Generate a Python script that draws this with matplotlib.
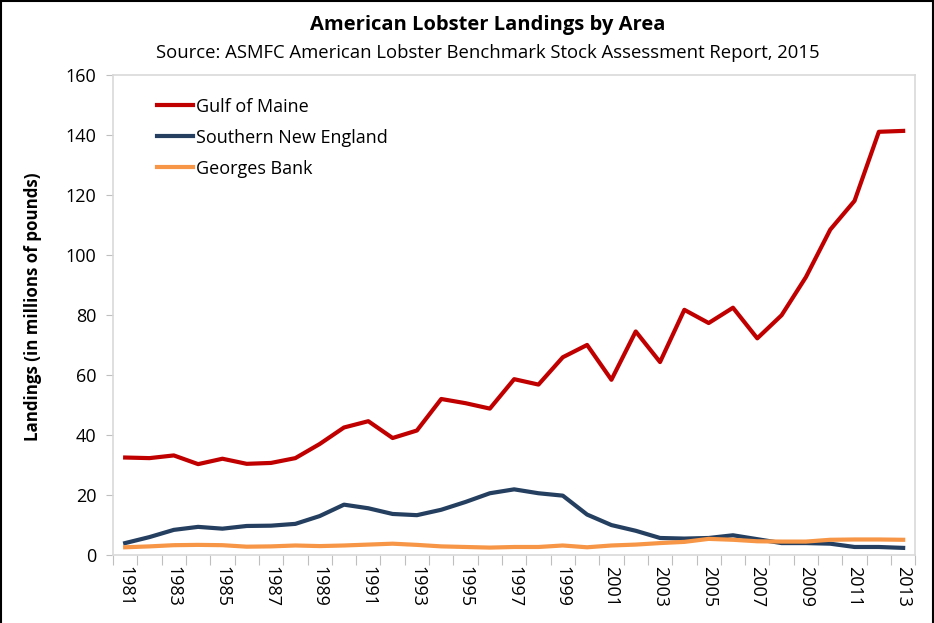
#!/usr/bin/env python3
# -*- coding: utf-8 -*-
import matplotlib
matplotlib.use("Agg")
import matplotlib.pyplot as plt
from matplotlib.patches import Rectangle

plt.rcParams['font.family'] = ['Open Sans', 'DejaVu Sans']

# landings, millions of pounds
years = list(range(1981, 2014))
gulf_of_maine = [32.5, 32.3, 33.2, 30.3, 32.1, 30.4, 30.7, 32.3, 37.0, 42.5,
                 44.6, 39.0, 41.5, 52.0, 50.6, 48.8, 58.6, 56.8, 65.9, 70.0,
                 58.4, 74.5, 64.3, 81.7, 77.3, 82.4, 72.2, 79.9, 92.6, 108.4,
                 118.0, 141.0, 141.3]
southern_ne = [4.0, 6.0, 8.4, 9.4, 8.8, 9.7, 9.8, 10.4, 13.0, 16.8,
               15.6, 13.7, 13.3, 15.1, 17.7, 20.6, 21.9, 20.6, 19.8, 13.5,
               10.0, 8.1, 5.7, 5.5, 5.7, 6.6, 5.3, 4.0, 4.0, 3.8,
               2.7, 2.7, 2.4]
georges_bank = [2.6, 2.9, 3.3, 3.4, 3.3, 2.8, 2.9, 3.2, 3.0, 3.2,
                3.5, 3.8, 3.4, 2.9, 2.7, 2.5, 2.7, 2.7, 3.2, 2.6,
                3.2, 3.5, 4.0, 4.4, 5.4, 5.1, 4.6, 4.5, 4.5, 5.1,
                5.2, 5.2, 5.1]
yticks = [0, 20, 40, 60, 80, 100, 120, 140, 160]

fig = plt.figure(figsize=(9.34, 6.23), dpi=100)
ax = fig.add_axes([0.121, 0.109, 0.859, 0.771])

ax.plot(years, gulf_of_maine, color='#C00000', lw=3, label='Gulf of Maine')
ax.plot(years, southern_ne, color='#243F60', lw=3, label='Southern New England')
ax.plot(years, georges_bank, color='#F79646', lw=3, label='Georges Bank')

ax.set_xlim(years[0] - 0.5, years[-1] + 0.5)
ax.set_ylim(0, 160)
ax.set_yticks(yticks)
ax.tick_params(axis='y', labelsize=13, length=5, color='#BFBFBF', pad=7)

# ticks between categories, labels on odd years
ax.set_xticks([y - 0.5 for y in years] + [years[-1] + 0.5])
ax.set_xticks(years[::2], minor=True)
ax.set_xticklabels([])
ax.set_xticklabels([str(y) for y in years[::2]], minor=True, rotation=-90,
                   fontsize=13)
ax.tick_params(axis='x', which='major', length=7, color='#BFBFBF')
ax.tick_params(axis='x', which='minor', length=0, pad=8)

for s in ax.spines.values():
    s.set_color('#D9D9D9')
    s.set_linewidth(1.2)

ax.set_ylabel('Landings (in millions of pounds)', fontsize=12.2,
              fontweight='bold')
ax.yaxis.set_label_coords(-0.088, 0.517)

ax.legend(loc='upper left', frameon=False, fontsize=13, handlelength=2.0,
          handletextpad=0.15, borderpad=0, borderaxespad=0,
          labelspacing=0.72, bbox_to_anchor=(0.055, 0.952))

fig.text(0.522, 0.96, 'American Lobster Landings by Area', ha='center',
         va='center', fontsize=14.5, fontweight='bold')
fig.text(0.522, 0.915,
         'Source: ASMFC American Lobster Benchmark Stock Assessment Report, 2015',
         ha='center', va='center', fontsize=13.3)

# black frame round the picture
fig.patches.append(Rectangle((0.001, -0.01), 0.998, 1.008,
                             transform=fig.transFigure, fill=False,
                             edgecolor='black', lw=1.5))

fig.savefig('out.png', dpi=100)
